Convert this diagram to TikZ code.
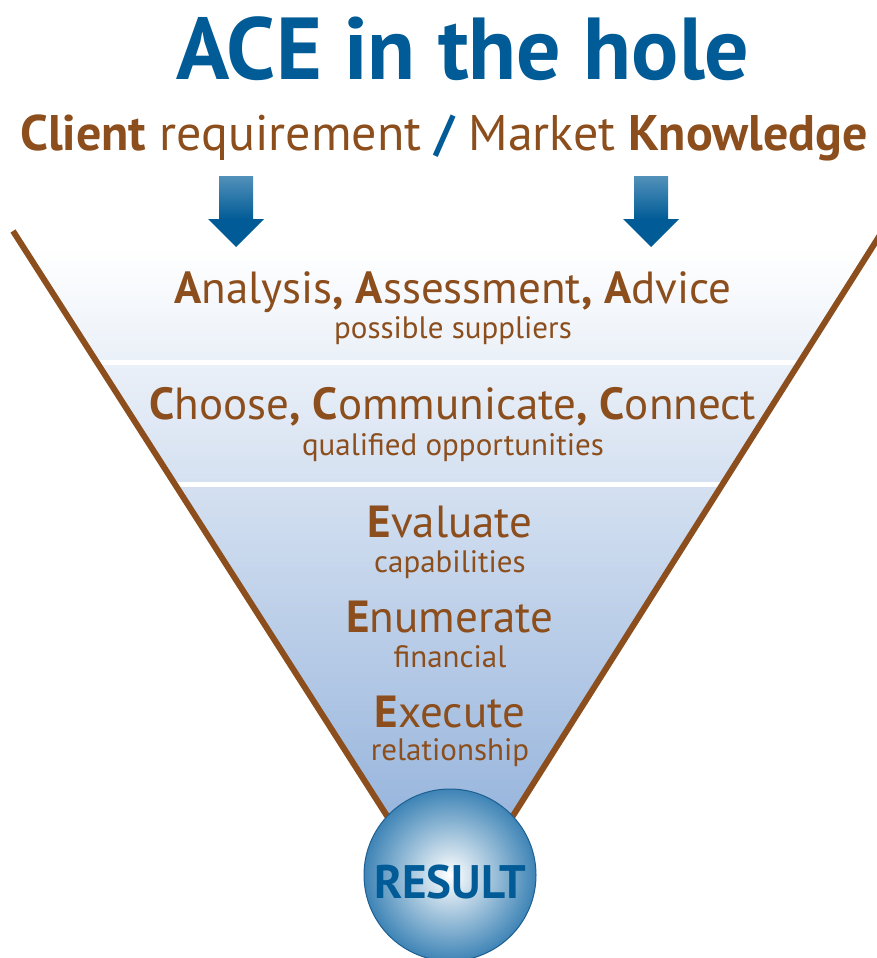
\documentclass[tikz,border=0pt]{standalone}
\usepackage{fontspec}
\setmainfont{PT Sans}
\definecolor{aceblue}{RGB}{0,91,150}
\definecolor{acebrown}{RGB}{139,78,28}
\definecolor{arrowlight}{RGB}{82,145,186}
\definecolor{funnelblue}{RGB}{150,180,220}
\definecolor{resultblue}{RGB}{62,132,182}
\definecolor{resultedge}{RGB}{30,95,146}

\begin{document}
\begin{tikzpicture}[x=1pt,y=-1pt,
    head/.style={text=acebrown, inner sep=0pt, anchor=base, font=\fontsize{45}{48}\selectfont},
    note/.style={text=acebrown, inner sep=0pt, anchor=base, font=\fontsize{31}{34}\selectfont}]
  \useasboundingbox (0,0) rectangle (877,958);

  % titles
  \node[text=aceblue, inner sep=0pt, anchor=base, font=\fontsize{88}{94}\selectfont\bfseries] (title) at (463,80) {ACE in the hole};
  \node[text=acebrown, inner sep=0pt, anchor=base, font=\fontsize{50}{56}\selectfont] (subtitle) at (444,150)
    {{\bfseries Client} requirement {\color{aceblue}\bfseries /} Market {\bfseries Knowledge}};

  % arrows
  \foreach \ax in {236,651} {
    \shade[top color=arrowlight, bottom color=aceblue] (\ax-17,176) rectangle (\ax+17,220);
    \fill[aceblue] (\ax-28,219) -- (\ax+28,219) -- (\ax,247) -- cycle;
  }

  % funnel
  \coordinate (ltop) at (13,231);
  \coordinate (lbot) at (396,830);
  \coordinate (rtop) at (880,235);
  \coordinate (rbot) at (504,830);
  \shade[top color=white, bottom color=funnelblue] (24,248) -- (872,248) -- (rbot) -- (lbot) -- cycle;
  \foreach \sy in {362,484}
    \draw[white, line width=5pt] (0,\sy) -- (877,\sy);
  \draw[acebrown, line width=6pt] (ltop) -- (lbot);
  \draw[acebrown, line width=6pt] (rtop) -- (rbot);

  % stages
  \node[head] (analysis) at (453,303) {{\bfseries A}nalysis{\bfseries ,} {\bfseries A}ssessment{\bfseries ,} {\bfseries A}dvice};
  \node[note] (suppliers) at (453,338) {possible suppliers};
  \node[head] (choose) at (453,419) {{\bfseries C}hoose{\bfseries ,} {\bfseries C}ommunicate{\bfseries ,} {\bfseries C}onnect};
  \node[note] (opportunities) at (453,455) {qualified opportunities};
  \node[head] (evaluate) at (450,537) {{\bfseries E}valuate};
  \node[note] (capabilities) at (450,572) {capabilities};
  \node[head] (enumerate) at (450,632) {{\bfseries E}numerate};
  \node[note] (financial) at (450,667) {financial};
  \node[head] (execute) at (450,727) {{\bfseries E}xecute};
  \node[note] (relationship) at (450,760) {relationship};

  % result
  \node[circle, minimum size=172pt, inner color=white, outer color=resultblue, draw=resultedge, line width=1pt] (result) at (450,875) {};
  \node[text=aceblue, inner sep=0pt, anchor=base, font=\fontsize{47}{50}\selectfont\bfseries] (resulttext) at (450,898) {RESULT};
\end{tikzpicture}
\end{document}
